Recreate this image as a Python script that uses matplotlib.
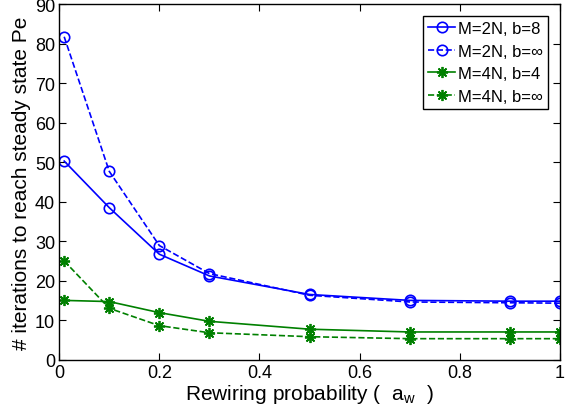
import matplotlib
matplotlib.use("Agg")
import matplotlib.pyplot as plt

plt.rcParams['font.family'] = ['Liberation Sans', 'DejaVu Sans']
plt.rcParams['mathtext.fontset'] = 'custom'
plt.rcParams['mathtext.rm'] = 'Liberation Sans'
plt.rcParams['mathtext.it'] = 'Liberation Sans'

# rewiring probability values
x = [0.01, 0.1, 0.2, 0.3, 0.5, 0.7, 0.9, 1.0]

# iterations to reach steady state
m2_b8 = [50.3, 38.5, 26.7, 21.2, 16.5, 15.0, 14.8, 14.8]
m2_binf = [81.8, 47.7, 28.9, 21.8, 16.3, 14.6, 14.4, 14.3]
m4_b4 = [15.0, 14.7, 11.9, 9.7, 7.7, 7.0, 7.0, 7.0]
m4_binf = [25.0, 13.0, 8.6, 6.8, 5.8, 5.3, 5.3, 5.3]

fig = plt.figure(figsize=(5.69, 4.14), dpi=100)
ax = fig.add_axes([0.104, 0.129, 0.880, 0.858])

blue = '#0000ff'
green = '#008000'
star = (8, 2, 0)
ax.plot(x, m2_b8, '-o', color=blue, mfc='none', ms=7.5, lw=1.2, mew=1.2, label='M=2N, b=8')
ax.plot(x, m2_binf, '--o', color=blue, mfc='none', ms=7.5, lw=1.2, mew=1.2, label='M=2N, b=\u221e')
ax.plot(x, m4_b4, '-', marker=star, color=green, ms=8, lw=1.2, mew=1.3, label='M=4N, b=4')
ax.plot(x, m4_binf, '--', marker=star, color=green, ms=8, lw=1.2, mew=1.3, label='M=4N, b=\u221e')

ax.set_xlim(0, 1)
ax.set_ylim(0, 90)
ax.set_xticks([0, 0.2, 0.4, 0.6, 0.8, 1])
ax.set_xticklabels(['0', '0.2', '0.4', '0.6', '0.8', '1'])
ax.set_yticks(range(0, 91, 10))
ax.tick_params(direction='in', top=True, right=True, labelsize=13, length=5, pad=3)
for s in ax.spines.values():
    s.set_linewidth(1.0)

ax.set_xlabel('Rewiring probability (  a$_{\\mathrm{w}}$  )', fontsize=15, labelpad=1)
ax.set_ylabel('# iterations to reach steady state Pe', fontsize=15, labelpad=3)

leg = ax.legend(loc='upper right', fontsize=12, fancybox=False, framealpha=1,
                edgecolor='black', handlelength=1.6, handletextpad=0.2,
                borderpad=0.3, labelspacing=0.45, borderaxespad=0.7)
leg.get_frame().set_linewidth(1.0)

fig.savefig('out.png', dpi=100)
